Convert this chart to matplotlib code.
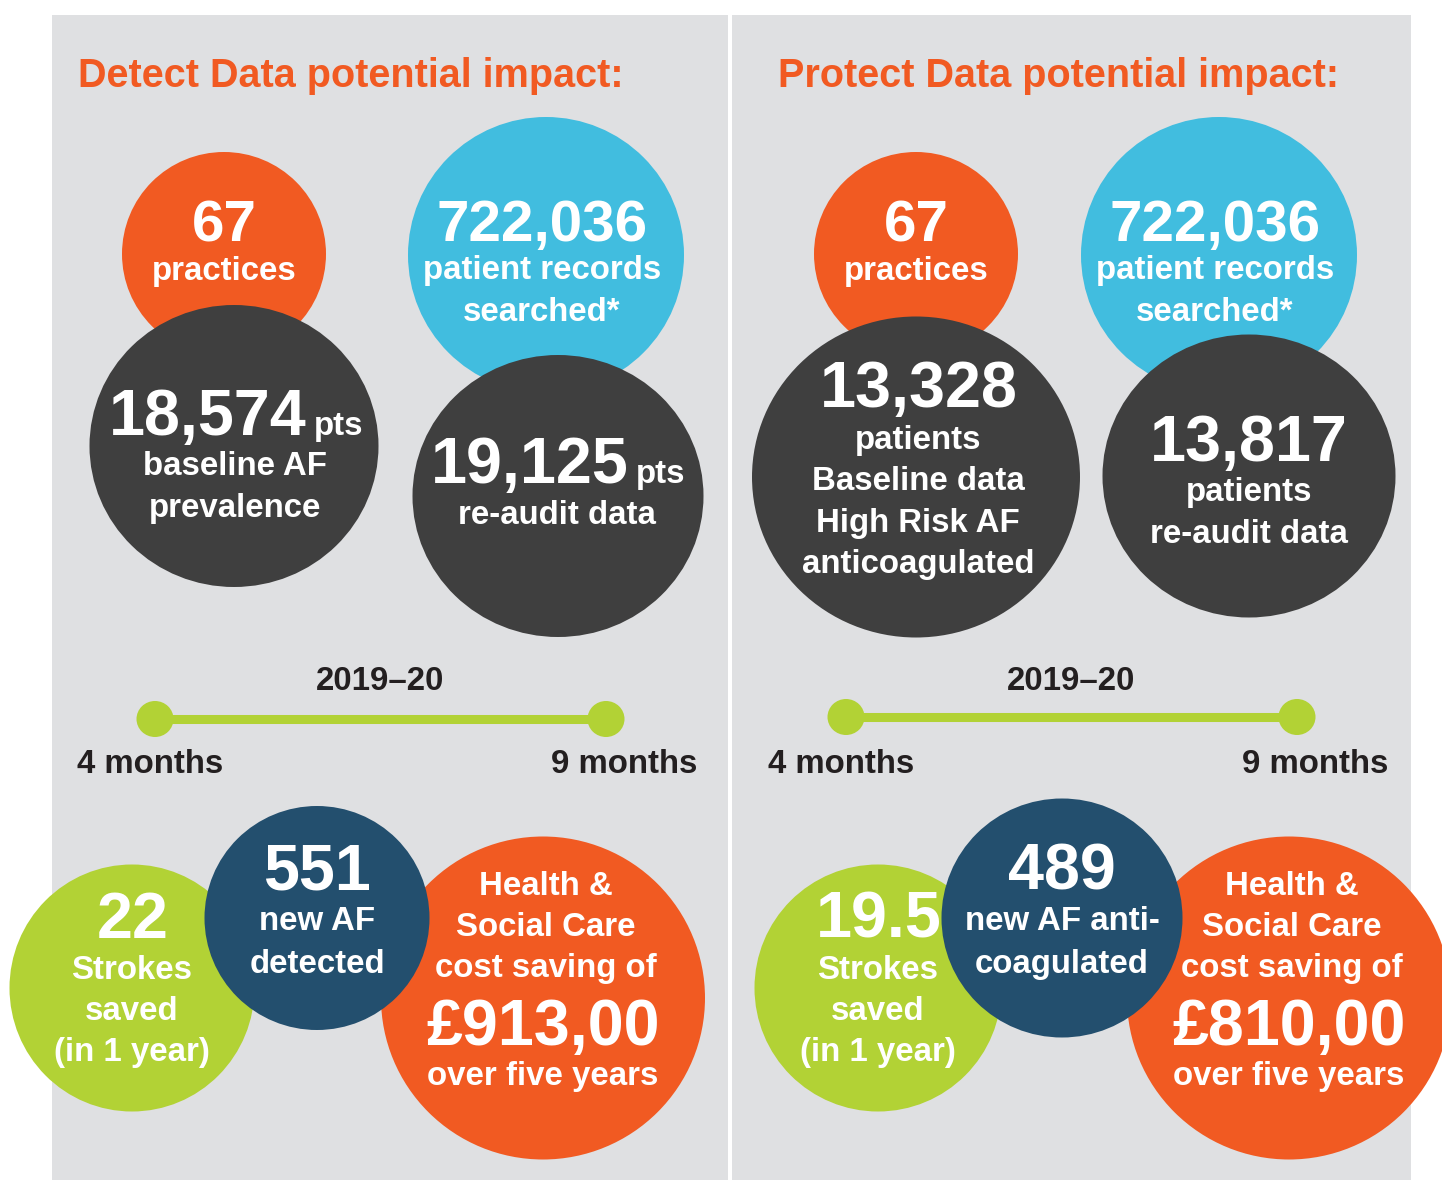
import matplotlib
matplotlib.use('Agg')
import matplotlib.pyplot as plt
from matplotlib.patches import Ellipse, Rectangle

titles = ['Detect Data potential impact:', 'Protect Data potential impact:']
practices = ['67', '67']
records = ['722,036', '722,036']
baselineCount = ['18,574', '13,328']
reauditCount = ['19,125', '13,817']
strokesSaved = ['22', '19.5']
newAf = ['551', '489']
costSaving = ['£913,00', '£810,00']
period = '2019–20'
months = ['4 months', '9 months']

baselineCaption = [['baseline AF', 'prevalence'],
                   ['patients', 'Baseline data', 'High Risk AF', 'anticoagulated']]
reauditCaption = [['re-audit data'], ['patients', 're-audit data']]
newAfCaption = [['new AF', 'detected'], ['new AF anti-', 'coagulated']]
strokesCaption = ['Strokes', 'saved', '(in 1 year)']
savingCaption = ['Health &', 'Social Care', 'cost saving of']
savingFooter = 'over five years'
recordsCaption = ['patient records', 'searched*']
practicesCaption = 'practices'

ORANGE = '#f15a22'
CYAN = '#41bddf'
DARK = '#3f3f3f'
GREEN = '#b2d235'
NAVY = '#234f6e'
GREY = '#dfe0e2'
INK = '#231f20'

W, H = 1442, 1180
plt.rcParams['font.family'] = ['Liberation Sans', 'DejaVu Sans']

BIG = 46.5      # big figures in the dark / bottom circles (pt)
MID = 42        # figures in the top orange / cyan circles
SMALL = 23.8    # captions
TITLE = 28.5

fig = plt.figure(figsize=(W / 100, H / 100), dpi=100)
ax = fig.add_axes((0, 0, 1, 1))
ax.set_xlim(0, W)
ax.set_ylim(H, 0)
ax.set_axis_off()


def circle(cx, cy, w, h, color, z):
    ax.add_patch(Ellipse((cx, cy), w, h, facecolor=color, edgecolor='none', zorder=z))


def label(x, y, s, size, color='white', ha='center', z=10):
    ax.text(x, y, s, fontsize=size, fontweight='bold', color=color,
            ha=ha, va='baseline', zorder=z)


def lines(x, y0, rows, step, z):
    for i, row in enumerate(rows):
        label(x, y0 + i * step, row, SMALL, z=z)


# panel layouts (pixel positions of the reference)
panels = [
    dict(box=(52, 728), titleX=78,
         orange=(224, 254, 204, 204), cyan=(546, 255, 276, 276),
         darkA=(234, 446, 289, 282), darkB=(558, 496, 291, 282),
         dots=(155, 606, 719),
         green=(132, 988, 245, 247), navy=(317, 918, 225, 224),
         saving=(543, 998, 324, 323)),
    dict(box=(732, 1411), titleX=778,
         orange=(916, 254, 204, 204), cyan=(1219, 255, 276, 276),
         darkA=(916, 477, 328, 321), darkB=(1249, 476, 293, 283),
         dots=(846, 1297, 717),
         green=(878, 988, 247, 247), navy=(1062, 918, 241, 239),
         saving=(1289, 998, 324, 323)),
]

for i, p in enumerate(panels):
    x0, x1 = p['box']
    ax.add_patch(Rectangle((x0, 15), x1 - x0, H - 15, facecolor=GREY,
                           edgecolor='none', zorder=0))
    label(p['titleX'], 87, titles[i], TITLE, color=ORANGE, ha='left', z=2)

    # top cluster
    ox, oy = p['orange'][:2]
    circle(*p['orange'], ORANGE, 1)
    label(ox, 241, practices[i], MID, z=2)
    label(ox, 280, practicesCaption, SMALL, z=2)

    cx, cy = p['cyan'][:2]
    circle(*p['cyan'], CYAN, 1)
    label(cx - 4, 241, records[i], MID, z=2)
    lines(cx - 4, 279, recordsCaption, 42, 2)

    ax_, ay = p['darkA'][:2]
    circle(*p['darkA'], DARK, 3)
    bx, by = p['darkB'][:2]
    circle(*p['darkB'], DARK, 3)
    if i == 0:
        label(307, 435, baselineCount[i], BIG, ha='right', z=4)
        label(314, 435, 'pts', SMALL, ha='left', z=4)
        lines(235, 475, baselineCaption[i], 42, 4)
        label(629, 483, reauditCount[i], BIG, ha='right', z=4)
        label(636, 483, 'pts', SMALL, ha='left', z=4)
        lines(557, 524, reauditCaption[i], 42, 4)
    else:
        label(ax_ + 3, 407, baselineCount[i], BIG, z=4)
        lines(ax_ + 2, 449, baselineCaption[i], 41.5, 4)
        label(bx, 461, reauditCount[i], BIG, z=4)
        lines(bx, 501, reauditCaption[i], 42, 4)

    # timeline
    left, right, ty = p['dots']
    ax.plot([left, right], [ty, ty], color=GREEN, lw=6.5, solid_capstyle='butt', zorder=2)
    circle(left, ty, 37, 36, GREEN, 3)
    circle(right, ty, 37, 36, GREEN, 3)
    label((left + right) / 2, 690, period, SMALL, color=INK, z=4)
    label(left - 5, 773, months[0], SMALL, color=INK, z=4)
    label(right + 18, 773, months[1], SMALL, color=INK, z=4)

    # bottom cluster
    gx = p['green'][0]
    circle(*p['green'], GREEN, 5)
    label(gx + 1, 938, strokesSaved[i], BIG, z=6)
    lines(gx, 979, strokesCaption, 41, 6)

    sx = p['saving'][0]
    circle(*p['saving'], ORANGE, 7)
    lines(sx + 3, 895, savingCaption, 41, 8)
    label(sx, 1045, costSaving[i], BIG, z=8)
    label(sx, 1085, savingFooter, SMALL, z=8)

    nx = p['navy'][0]
    circle(*p['navy'], NAVY, 9)
    label(nx, 890, newAf[i], BIG, z=10)
    lines(nx, 930, newAfCaption[i], 43, 10)

fig.savefig('out.png', dpi=100, facecolor='white')
